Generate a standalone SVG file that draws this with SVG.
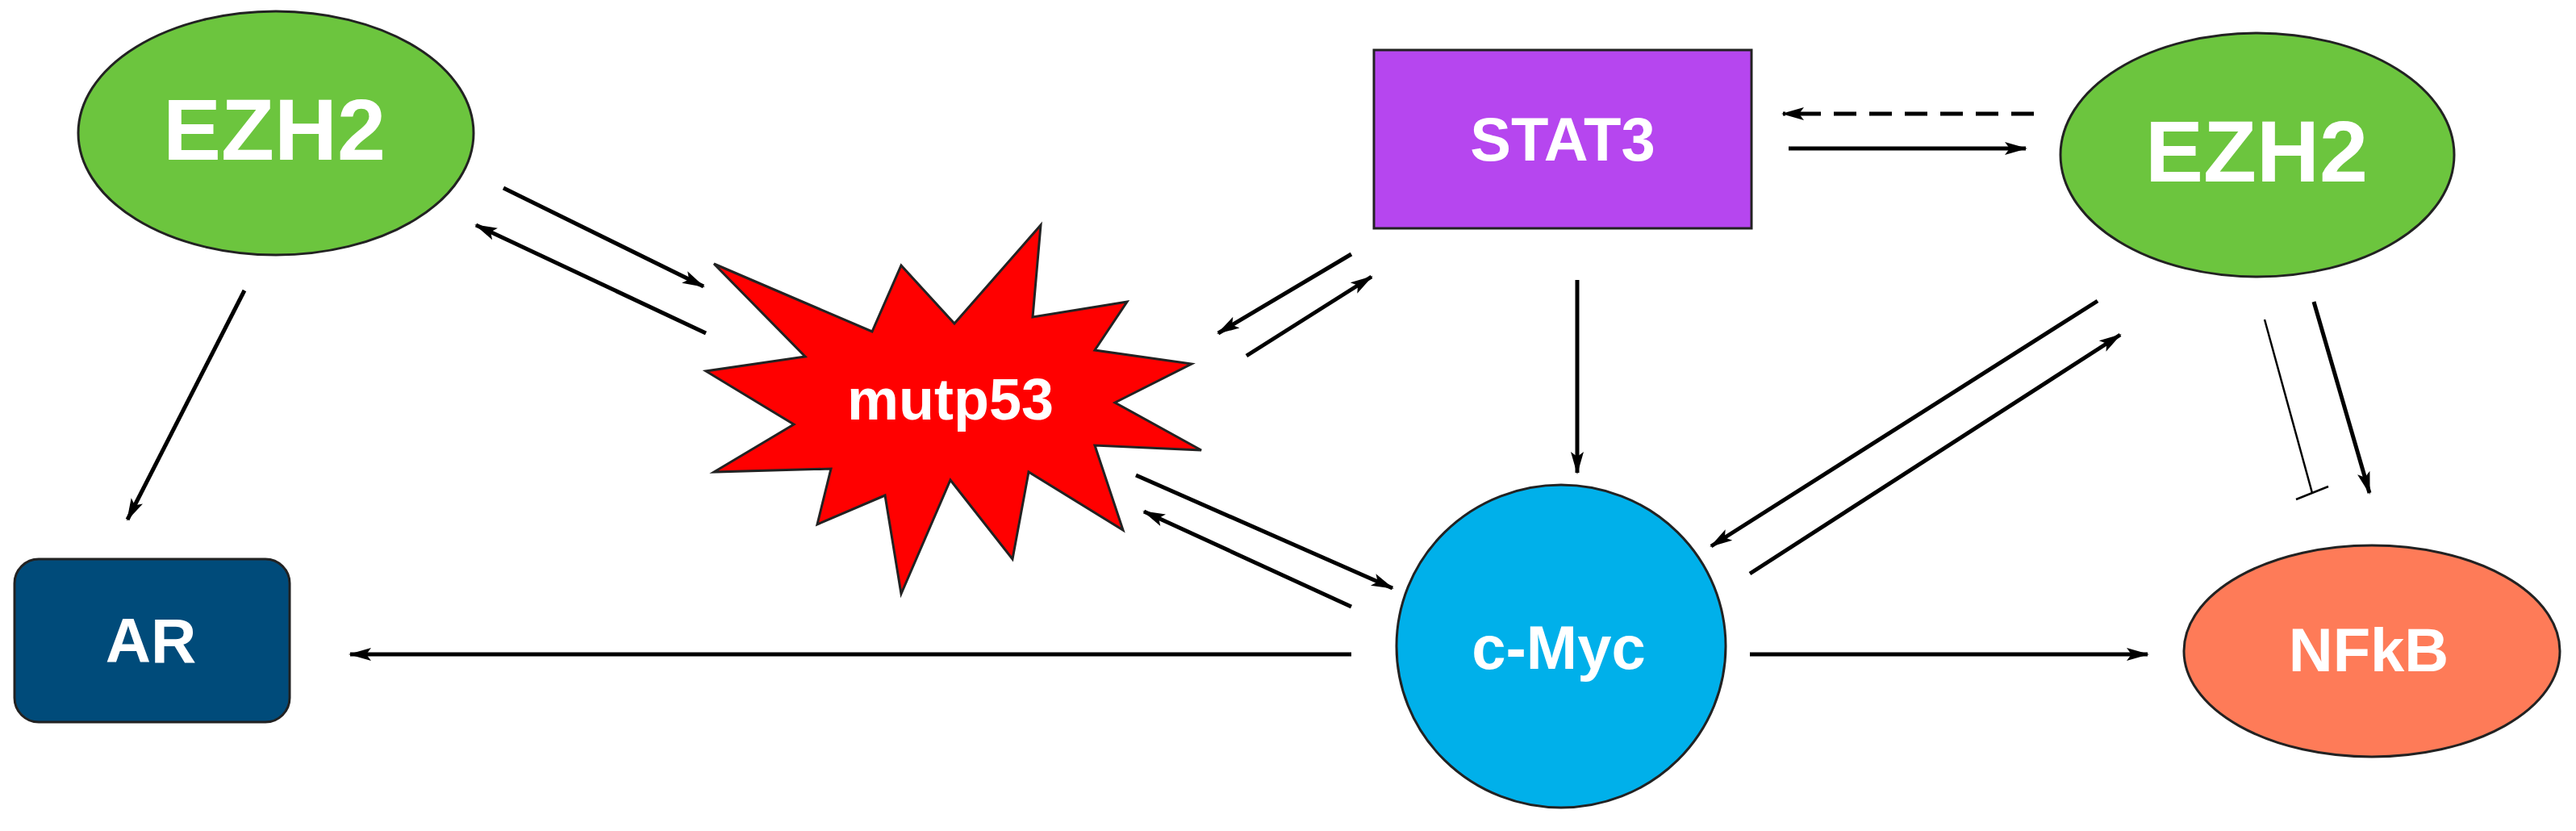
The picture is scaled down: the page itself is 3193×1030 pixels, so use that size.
<svg xmlns="http://www.w3.org/2000/svg" width="3193" height="1030" viewBox="0 0 3193 1030">
<style>
.lbl{font-family:"Liberation Sans",Arial,sans-serif;font-weight:bold;fill:#fff;text-anchor:middle;dominant-baseline:central}
.c{stroke:#000;stroke-width:5;fill:none;marker-end:url(#ah)}
.node{stroke:#222;stroke-width:3}
</style>
<defs>
<marker id="ah" markerUnits="userSpaceOnUse" markerWidth="28" markerHeight="20" refX="26" refY="10" orient="auto">
<path d="M0,2 L28,10 L0,18 L6,10 Z" fill="#000"/>
</marker>
</defs>
<rect width="3193" height="1030" fill="#fff"/>
<g id="ezh2-left"><ellipse class="node" cx="342" cy="165" rx="245" ry="151" fill="#6cc53e"/><text class="lbl" x="340" y="160" font-size="108">EZH2</text></g>
<g id="ar"><rect class="node" x="18" y="693" width="341" height="202" rx="30" fill="#004b7a" stroke="#003a60"/><text class="lbl" x="187" y="794" font-size="78">AR</text></g>
<g id="mutp53"><polygon class="node" fill="#ff0000" stroke="#8a0000" points="1290,279 1280,393 1397,374 1357,434 1477,451 1382,499 1489,558 1357,552 1392,657 1275,585 1255,693 1178,595 1117,736 1097,614 1013,650 1030,581 885,585 984,526 875,460 998,442 885,327 1081,411 1117,329 1183,401"/><text class="lbl" x="1178" y="495" font-size="72">mutp53</text></g>
<g id="stat3"><rect class="node" x="1703" y="62" width="468" height="221" fill="#b646ef" stroke="#4a1a70"/><text class="lbl" x="1937" y="172" font-size="76">STAT3</text></g>
<g id="ezh2-right"><ellipse class="node" cx="2798" cy="192" rx="244" ry="151" fill="#6cc53e"/><text class="lbl" x="2797" y="187" font-size="108">EZH2</text></g>
<g id="cmyc"><ellipse class="node" cx="1935" cy="801" rx="204" ry="200" fill="#00b0ea" stroke="#004060"/><text class="lbl" x="1932" y="802" font-size="76">c-Myc</text></g>
<g id="nfkb"><ellipse class="node" cx="2940" cy="807" rx="233" ry="131" fill="#fe7b58" stroke="#602010"/><text class="lbl" x="2936" y="805" font-size="76">NFkB</text></g>
<g id="connectors">
<line class="c" x1="624" y1="233" x2="872" y2="355"/>
<line class="c" x1="875" y1="413" x2="590" y2="279"/>
<line class="c" x1="303" y1="360" x2="158" y2="644"/>
<line class="c" x1="1675" y1="811" x2="434" y2="811"/>
<line class="c" x1="1408" y1="589" x2="1726" y2="729"/>
<line class="c" x1="1675" y1="752" x2="1418" y2="634"/>
<line class="c" x1="1675" y1="315" x2="1510" y2="413"/>
<line class="c" x1="1545" y1="441" x2="1700" y2="343"/>
<line class="c" x1="2521" y1="141" x2="2210" y2="141" stroke-dasharray="28,16"/>
<line class="c" x1="2217" y1="184" x2="2511" y2="184"/>
<line class="c" x1="1955" y1="347" x2="1955" y2="586"/>
<line class="c" x1="2600" y1="373" x2="2121" y2="677"/>
<line class="c" x1="2169" y1="711" x2="2628" y2="415"/>
<line class="c" x1="2868" y1="374" x2="2937" y2="611"/>
<line class="c" x1="2169" y1="811" x2="2662" y2="811"/>
<line x1="2807" y1="396" x2="2866" y2="611" stroke="#000" stroke-width="2.5"/>
<line x1="2846" y1="619" x2="2886" y2="603" stroke="#000" stroke-width="2.5"/>
</g>
</svg>
